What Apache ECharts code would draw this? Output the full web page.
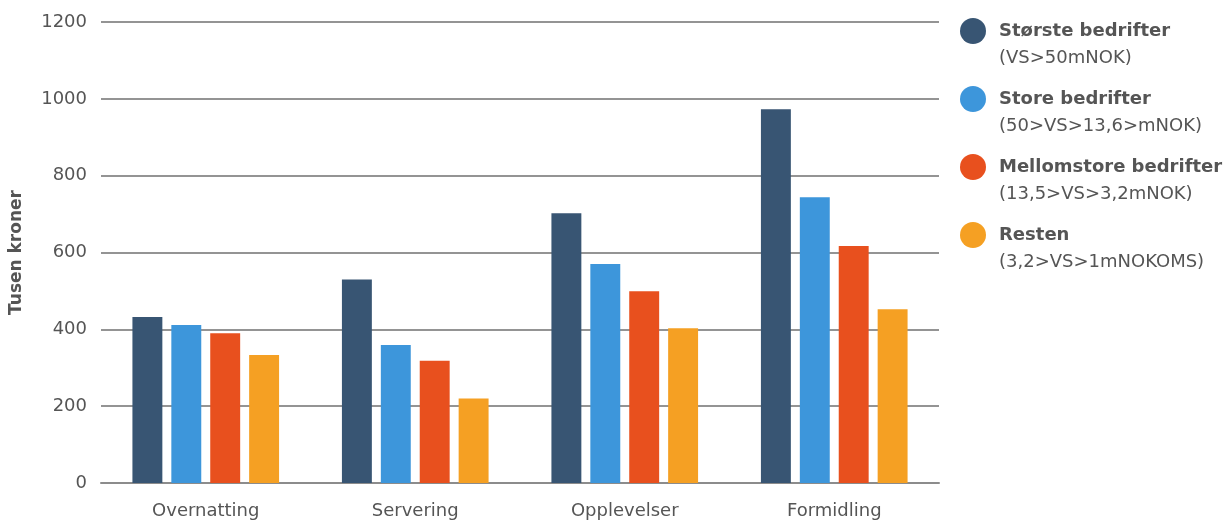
<!DOCTYPE html>
<html>
<head>
<meta charset="utf-8">
<script src="https://cdn.jsdelivr.net/npm/echarts@6/dist/echarts.min.js"></script>
<style>
  html, body { margin: 0; padding: 0; background: #fff; }
  #main { width: 1230px; height: 522px; }
</style>
</head>
<body>
<div id="main"></div>
<script>
// kategorier og verdier (tusen kroner)
const categories = ['Overnatting', 'Servering', 'Opplevelser', 'Formidling'];
const seriesNames = ['Største bedrifter', 'Store bedrifter', 'Mellomstore bedrifter', 'Resten'];
const seriesNotes = ['(VS>50mNOK)', '(50>VS>13,6>mNOK)', '(13,5>VS>3,2mNOK)', '(3,2>VS>1mNOKOMS)'];
const storste = [432, 530, 702, 973];
const store = [411, 359, 570, 744];
const mellomstore = [390, 318, 499, 617];
const resten = [333, 220, 403, 452];
const yTicks = { min: 0, max: 1200, interval: 200 };
const colors = ['#385573', '#3d96db', '#e8501e', '#f5a023'];

const allValues = [storste, store, mellomstore, resten];

let myChart = echarts.init(document.getElementById('main'));

const font = '"DejaVu Sans", sans-serif';

myChart.setOption({
    color: colors,
    textStyle: { fontFamily: font },
    grid: { left: 98, right: 291, top: 22, bottom: 39 },
    legend: {
        orient: 'vertical',
        left: 955,
        top: 13,
        icon: 'circle',
        itemWidth: 42,
        itemHeight: 26,
        itemGap: 19,
        data: seriesNames,
        textStyle: {
            padding: [27, 0, 0, 0],
            rich: {
                t: { fontSize: 18, fontWeight: 'bold', color: '#555', lineHeight: 27, fontFamily: font },
                s: { fontSize: 18, color: '#555', lineHeight: 27, fontFamily: font }
            }
        },
        formatter: function (name) {
            let i = seriesNames.indexOf(name);
            return '{t|' + name + '}\n{s|' + seriesNotes[i] + '}';
        }
    },
    xAxis: {
        type: 'category',
        data: categories,
        axisTick: { show: false },
        axisLine: { lineStyle: { color: '#8c8c8c', width: 2 } },
        axisLabel: { fontSize: 18, color: '#555', margin: 19, fontFamily: font }
    },
    yAxis: {
        type: 'value',
        min: yTicks.min,
        max: yTicks.max,
        interval: yTicks.interval,
        name: 'Tusen kroner',
        nameLocation: 'middle',
        nameGap: 76,
        nameTextStyle: { fontSize: 17, fontWeight: 'bold', color: '#555', fontFamily: font },
        axisLabel: {
            fontSize: 18, color: '#555', margin: 14, fontFamily: font,
            formatter: function (v) { return String(v); }
        },
        splitLine: { lineStyle: { color: '#707070', width: 1.5 } }
    },
    series: seriesNames.map(function (name, i) {
        return {
            name: name,
            type: 'bar',
            data: allValues[i],
            barGap: '30%',
            barCategoryGap: '30%'
        };
    })
});
</script>
</body>
</html>
